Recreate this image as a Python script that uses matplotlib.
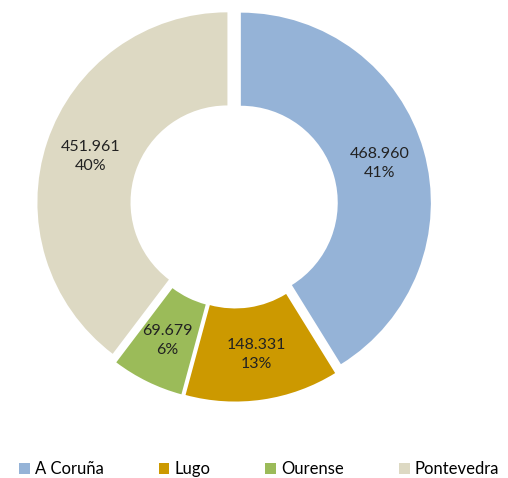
import matplotlib.pyplot as plt
from matplotlib.patches import Patch

# Data
provincias = ['A Coruña', 'Lugo', 'Ourense', 'Pontevedra']
valores = [468960, 148331, 69679, 451961]
colores = ['#95B3D7', '#CC9900', '#9BBB59', '#DDD9C3']

total = sum(valores)


def etiqueta(pct):
    v = int(round(pct * total / 100.0))
    return '{:,}'.format(v).replace(',', '.') + '\n' + '{:.0f}%'.format(pct)


plt.rcParams['font.family'] = ['Lato', 'DejaVu Sans']

fig = plt.figure(figsize=(5.08, 4.78), dpi=100)
ax = fig.add_axes([0.0118, 0.095, 0.898, 0.954])

wedges, texts, autotexts = ax.pie(
    valores,
    colors=colores,
    startangle=90,
    counterclock=False,
    explode=[0.037] * len(valores),
    autopct=etiqueta,
    pctdistance=0.76,
    wedgeprops=dict(width=0.49, edgecolor='none'),
    textprops=dict(fontsize=11.5, color='#222222'),
)
for t in autotexts:
    t.set_linespacing(1.45)

ax.set_xlim(-1.2, 1.2)
ax.set_ylim(-1.2, 1.2)
ax.set_aspect('equal')
ax.axis('off')

handles = [Patch(facecolor=c, edgecolor='none') for c in colores]
fig.legend(handles, provincias, loc='lower center', bbox_to_anchor=(0.51, -0.03),
           ncol=4, frameon=False, fontsize=12, handlelength=0.65, handleheight=0.65,
           handletextpad=0.3, columnspacing=3.3)

plt.savefig('out.png', dpi=100)
